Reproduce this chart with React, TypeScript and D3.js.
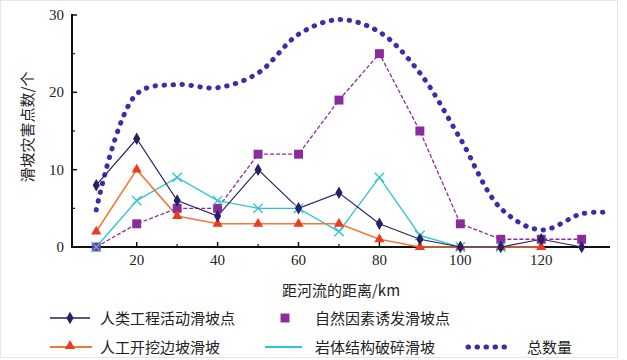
import * as d3 from "d3"

const distances = [10, 20, 30, 40, 50, 60, 70, 80, 90, 100, 110, 120, 130]

// 各类滑坡点数量
const humanActivity = [8, 14, 6, 4, 10, 5, 7, 3, 1, 0, 0, 1, 0]
const naturalFactor = [0, 3, 5, 5, 12, 12, 19, 25, 15, 3, 1, 1, 1]
const excavation = [2, 10, 4, 3, 3, 3, 3, 1, 0, 0, 0, 0, null]
const brokenRock = [0, 6, 9, 6, 5, 5, 2, 9, 1.5, 0, 0, null, null]

// 总数量曲线
const totalX = [10, 20, 30, 40, 50, 60, 70, 80, 90, 100, 110, 120, 130, 136]
const totalY = [4.8, 19.8, 21, 20.6, 22.5, 27.5, 29.4, 27.8, 22.5, 14, 5, 2.2, 4.3, 4.5]

const xTicks = [20, 40, 60, 80, 100, 120]
const yTicks = [0, 10, 20, 30]

const seriesNames = [
  "人类工程活动滑坡点",
  "自然因素诱发滑坡点",
  "人工开挖边坡滑坡",
  "岩体结构破碎滑坡",
  "总数量",
]

const W = 627
const H = 360
const x = d3.scaleLinear().domain([4, 137]).range([72, 610])
const y = d3.scaleLinear().domain([0, 30]).range([247, 15])

const navy = "#2a1f66"
const purple = "#8a2c9e"
const red = "#ee3a1e"
const orange = "#f2793a"
const cyan = "#2fc3d3"
const blue = "#3a2fa6"

type Pt = [number, number | null]

function linePath(vals: (number | null)[]) {
  const pts: Pt[] = distances.map((d, i) => [d, vals[i]])
  return (
    d3
      .line<Pt>()
      .defined((p) => p[1] !== null)
      .x((p) => x(p[0]))
      .y((p) => y(p[1] as number))(pts) || ""
  )
}

function Markers({ vals, type, size, fill, stroke }: { vals: (number | null)[]; type: d3.SymbolType; size: number; fill: string; stroke?: string }) {
  const path = d3.symbol().type(type).size(size)() || ""
  return (
    <g>
      {distances.map((d, i) =>
        vals[i] === null ? null : (
          <path
            key={i}
            d={path}
            transform={`translate(${x(d)},${y(vals[i] as number)})`}
            fill={fill}
            stroke={stroke || "none"}
            strokeWidth={stroke ? 1.3 : 0}
          />
        )
      )}
    </g>
  )
}

export default function App() {
  const totalLine =
    d3
      .line<number>()
      .x((_, i) => x(totalX[i]))
      .y((v) => y(v))
      .curve(d3.curveCatmullRom.alpha(0.5))(totalY) || ""

  const minorY = d3.range(5, 30, 10)
  const minorX = d3.range(10, 131, 20)

  return (
    <svg width={W} height={H} style={{ position: "absolute", left: 0, top: 0, background: "#fff" }} fontFamily="Liberation Serif, serif">
      <rect x={0.5} y={0.5} width={617} height={357} fill="#fff" stroke="#e6e6e6" />

      {/* axes */}
      <line x1={72} x2={72} y1={14} y2={248} stroke="#111" strokeWidth={2} />
      <line x1={71} x2={610} y1={247} y2={247} stroke="#111" strokeWidth={2} />
      {yTicks.map((t) => (
        <g key={t}>
          <line x1={72} x2={77} y1={y(t)} y2={y(t)} stroke="#111" strokeWidth={1.5} />
          <text x={64} y={y(t) + 5} textAnchor="end" fontSize={15} fill="#222">
            {t}
          </text>
        </g>
      ))}
      {minorY.map((t) => (
        <line key={t} x1={72} x2={75} y1={y(t)} y2={y(t)} stroke="#111" strokeWidth={1.2} />
      ))}
      {xTicks.map((t) => (
        <g key={t}>
          <line x1={x(t)} x2={x(t)} y1={247} y2={242} stroke="#111" strokeWidth={1.5} />
          <text x={x(t)} y={265} textAnchor="middle" fontSize={15} fill="#222">
            {t}
          </text>
        </g>
      ))}
      {minorX.map((t) => (
        <line key={t} x1={x(t)} x2={x(t)} y1={247} y2={244} stroke="#111" strokeWidth={1.2} />
      ))}

      <text
        transform="rotate(-90)"
        x={-127}
        y={33}
        textAnchor="middle"
        fontSize={15}
        fontFamily="Noto Sans CJK SC"
        fill="#222"
      >
        滑坡灾害点数/个
      </text>
      <text x={341} y={296} textAnchor="middle" fontSize={15} fontFamily="Noto Sans CJK SC" fill="#222">
        距河流的距离/km
      </text>

      {/* series */}
      <path d={totalLine} fill="none" stroke={blue} strokeWidth={5} strokeDasharray="0.5 8.5" strokeLinecap="round" />
      <path d={linePath(naturalFactor)} fill="none" stroke={purple} strokeWidth={1.3} strokeDasharray="4 2" />
      <path d={linePath(brokenRock)} fill="none" stroke={cyan} strokeWidth={1.3} />
      <path d={linePath(excavation)} fill="none" stroke={orange} strokeWidth={1.6} />
      <path d={linePath(humanActivity)} fill="none" stroke={navy} strokeWidth={1.2} />

      <Markers vals={naturalFactor} type={d3.symbolSquare} size={80} fill={purple} />
      <Markers vals={brokenRock} type={d3.symbolX} size={60} fill="none" stroke={cyan} />
      <Markers vals={excavation} type={d3.symbolTriangle} size={45} fill={red} />
      <Markers vals={humanActivity} type={d3.symbolDiamond} size={45} fill={navy} />

      {/* legend */}
      <g fontFamily="Noto Sans CJK SC" fontSize={15} fill="#222">
        <line x1={50} x2={90} y1={318} y2={318} stroke={navy} strokeWidth={1.6} />
        <path d={d3.symbol().type(d3.symbolDiamond).size(45)() || ""} transform="translate(70,318)" fill={navy} />
        <text x={100} y={324}>{seriesNames[0]}</text>

        <path d={d3.symbol().type(d3.symbolSquare).size(80)() || ""} transform="translate(285,318)" fill={purple} />
        <text x={315} y={324}>{seriesNames[1]}</text>

        <line x1={50} x2={92} y1={347} y2={347} stroke={orange} strokeWidth={1.8} />
        <path d={d3.symbol().type(d3.symbolTriangle).size(45)() || ""} transform="translate(70,346)" fill={red} />
        <text x={100} y={353}>{seriesNames[2]}</text>

        <line x1={265} x2={302} y1={347} y2={347} stroke={cyan} strokeWidth={2} />
        <text x={315} y={353}>{seriesNames[3]}</text>

        <line x1={468} x2={512} y1={347} y2={347} stroke={blue} strokeWidth={5} strokeDasharray="0.5 8.5" strokeLinecap="round" />
        <text x={527} y={353}>{seriesNames[4]}</text>
      </g>
    </svg>
  )
}
